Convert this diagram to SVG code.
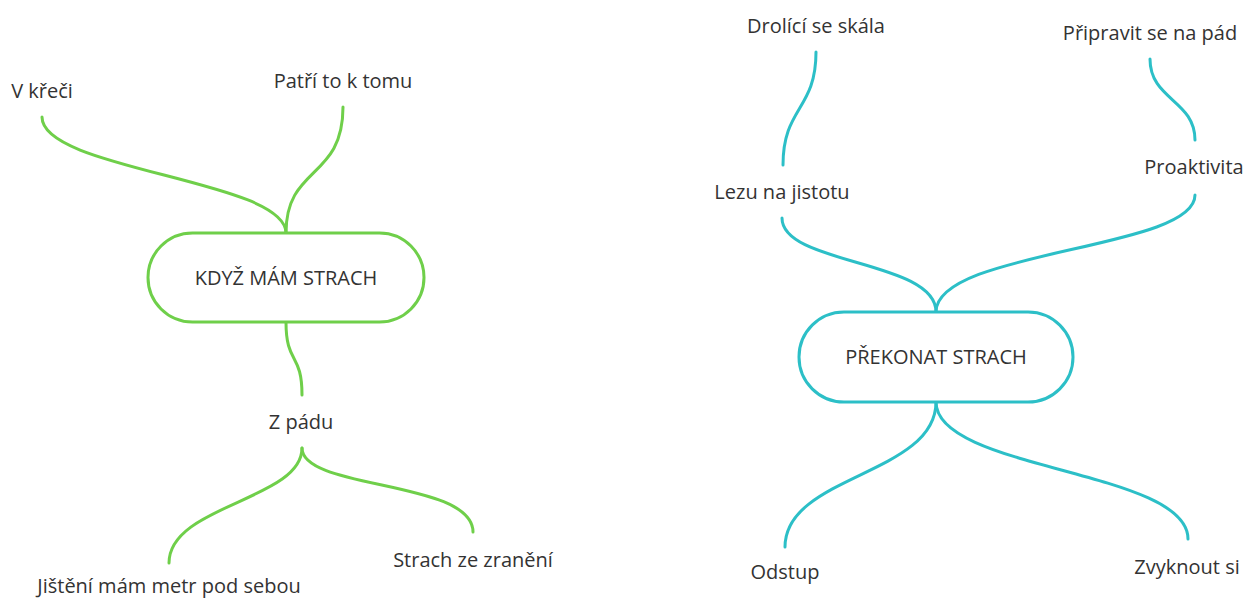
<svg xmlns="http://www.w3.org/2000/svg" width="1244" height="599" viewBox="0 0 1244 599">
<style>
.t{font-family:"Open Sans","Liberation Sans",sans-serif;font-size:20px;fill:#333;text-anchor:middle}
.g{fill:none;stroke:#6fcf4a;stroke-width:3;stroke-linecap:round}
.c{fill:none;stroke:#2cbfc7;stroke-width:3;stroke-linecap:round}
.gb{fill:#fff;stroke:#6fcf4a;stroke-width:3}
.cb{fill:#fff;stroke:#2cbfc7;stroke-width:3}
</style>
<rect width="1244" height="599" fill="#fff"/>
<g id="connectors">
<path class="g" d="M286,233 C286,180 42,170 42,117"/>
<path class="g" d="M286,233 C286,165 343,180 343,107"/>
<path class="g" d="M286,322 C286,365 302,352 302,395"/>
<path class="g" d="M302,448 C302,500 169,505 169,563"/>
<path class="g" d="M302,448 C302,490 473,480 473,532"/>
<path class="c" d="M816,52 C816,110 783,107 783,165"/>
<path class="c" d="M936,312 C936,260 782,265 782,218"/>
<path class="c" d="M936,312 C936,250 1195,250 1195,195"/>
<path class="c" d="M1150,59 C1150,100 1195,100 1195,140"/>
<path class="c" d="M936,402 C936,475 785,475 785,547"/>
<path class="c" d="M936,402 C936,470 1188,470 1188,539"/>
</g>
<g id="n-kdyz"><rect class="gb" x="148" y="233" width="276" height="89" rx="44.5"/><text class="t" x="286" y="285">KDYŽ MÁM STRACH</text></g>
<g id="n-vkreci"><text class="t" x="42" y="98">V křeči</text></g>
<g id="n-patri"><text class="t" x="343" y="88">Patří to k tomu</text></g>
<g id="n-zpadu"><text class="t" x="301" y="429">Z pádu</text></g>
<g id="n-jisteni"><text class="t" x="169" y="593">Jištění mám metr pod sebou</text></g>
<g id="n-zraneni"><text class="t" x="473" y="567">Strach ze zranění</text></g>
<g id="n-prekonat"><rect class="cb" x="799" y="312" width="274" height="90" rx="45"/><text class="t" x="936" y="364">PŘEKONAT STRACH</text></g>
<g id="n-drolici"><text class="t" x="816" y="33">Drolící se skála</text></g>
<g id="n-lezu"><text class="t" x="782" y="199">Lezu na jistotu</text></g>
<g id="n-pripravit"><text class="t" x="1150" y="40">Připravit se na pád</text></g>
<g id="n-proaktivita"><text class="t" x="1194" y="174">Proaktivita</text></g>
<g id="n-odstup"><text class="t" x="785" y="579">Odstup</text></g>
<g id="n-zvyknout"><text class="t" x="1187" y="574">Zvyknout si</text></g>
</svg>
